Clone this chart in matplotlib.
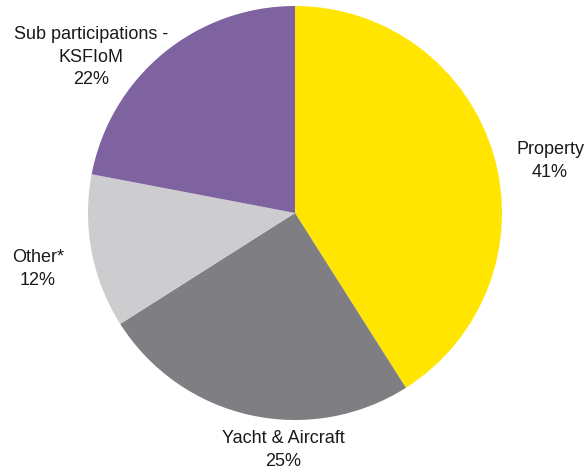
import matplotlib
matplotlib.use("Agg")
import matplotlib.pyplot as plt

labels = ["Property", "Yacht & Aircraft", "Other*", "Sub participations -\nKSFIoM"]
shares = [41, 25, 12, 22]
colors = ["#FFE500", "#7F7F83", "#CDCDD0", "#7F63A0"]

# label centres in data units (pie radius = 1)
label_pos = [(1.232, 0.251), (-0.058, -1.145), (-1.242, -0.270), (-0.986, 0.753)]

W, H = 585, 474
cx, cy, r = 295, 213, 207

fig = plt.figure(figsize=(W / 100, H / 100), dpi=100)
ax = fig.add_axes([0, 0, 1, 1])
ax.pie(shares, colors=colors, startangle=90, counterclock=False, radius=1,
       wedgeprops=dict(linewidth=0))
ax.set_xlim(-cx / r, (W - cx) / r)
ax.set_ylim(-(H - cy) / r, cy / r)
ax.set_aspect("equal")
ax.axis("off")

for lab, val, (x, y) in zip(labels, shares, label_pos):
    ax.text(x, y, f"{lab}\n{val}%", ha="center", va="center",
            fontsize=13, family="Liberation Sans", color="#1a1a1a",
            linespacing=1.45)

fig.savefig("out.png", dpi=100)
